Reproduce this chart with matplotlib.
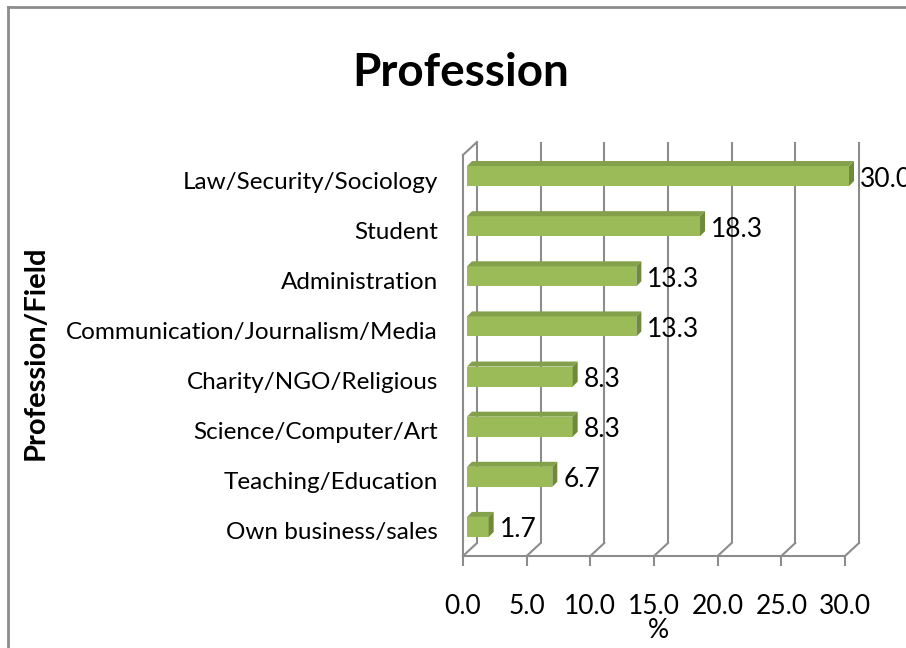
import matplotlib
matplotlib.use("Agg")
import matplotlib.pyplot as plt
from matplotlib.transforms import offset_copy
from matplotlib.patches import Polygon
from matplotlib.lines import Line2D
import numpy as np

plt.rcParams['font.family'] = ['Lato', 'DejaVu Sans']

categories = ['Law/Security/Sociology', 'Student', 'Administration',
              'Communication/Journalism/Media', 'Charity/NGO/Religious',
              'Science/Computer/Art', 'Teaching/Education', 'Own business/sales']
values = [30.0, 18.3, 13.3, 13.3, 8.3, 8.3, 6.7, 1.7]
xticks = [0, 5, 10, 15, 20, 25, 30]
xticklabels = ['0.0', '5.0', '10.0', '15.0', '20.0', '25.0', '30.0']

W, H = 906, 648
fig = plt.figure(figsize=(W / 100, H / 100), dpi=100)
fig.patch.set_facecolor('white')

# front plane of plot area in pixels
x0, x1, ytop, ybot = 463, 845, 155, 556
ax = fig.add_axes([x0 / W, (H - ybot) / H, (x1 - x0) / W, (ybot - ytop) / H])
ax.set_xlim(0, 30)
ax.set_ylim(7.5, -0.5)
ax.patch.set_alpha(0)

grey = '#8c8c8c'
wall = (14, 13)          # depth offset of back wall (px)
bfront = (4, 4)          # bar front face offset
bback = (9, 9)           # bar back face offset

back = offset_copy(ax.transData, fig, x=wall[0], y=wall[1], units='dots')

# back wall gridlines
ax.vlines(xticks, 7.5, -0.5, colors=grey, lw=1.5, transform=back, clip_on=False)
# floor lines and left wall top
for t in xticks:
    px, py = ax.transData.transform((t, 7.5))
    fig.add_artist(Line2D([px, px + wall[0]], [py, py + wall[1]], color=grey,
                          lw=1.5, transform=None))
px, py = ax.transData.transform((0, -0.5))
fig.add_artist(Line2D([px, px + wall[0]], [py, py + wall[1]], color=grey,
                      lw=1.5, transform=None))

for s in ['top', 'right']:
    ax.spines[s].set_visible(False)
for s in ['left', 'bottom']:
    ax.spines[s].set_color(grey)
    ax.spines[s].set_linewidth(1.5)

# bars
ypos = np.arange(len(categories))
bh = 0.4
front = offset_copy(ax.transData, fig, x=bfront[0], y=bfront[1], units='dots')
ax.barh(ypos, values, height=bh, color='#9bbb59', edgecolor='none',
        transform=front, clip_on=False, zorder=3)
dx, dy = bback[0] - bfront[0], bback[1] - bfront[1]
for yv, v in zip(ypos, values):
    (lx, ty) = ax.transData.transform((0, yv - bh / 2))
    (rx, by) = ax.transData.transform((v, yv + bh / 2))
    lx += bfront[0]; rx += bfront[0]; ty += bfront[1]; by += bfront[1]
    top = Polygon([[lx, ty], [rx, ty], [rx + dx, ty + dy], [lx + dx, ty + dy]],
                  closed=True, facecolor='#83a04a', edgecolor='none', transform=None)
    side = Polygon([[rx, by], [rx, ty], [rx + dx, ty + dy], [rx + dx, by + dy]],
                   closed=True, facecolor='#6f8a3c', edgecolor='none', transform=None)
    fig.add_artist(top)
    fig.add_artist(side)

# value labels
lab = offset_copy(ax.transData, fig, x=15, y=1, units='dots')
for yv, v in zip(ypos, values):
    ax.text(v, yv, f'{v:.1f}', transform=lab, ha='left', va='center',
            fontsize=19, color='black', clip_on=False)

ax.set_yticks(ypos)
ax.set_yticklabels(categories, fontsize=17.5)
ax.tick_params(axis='y', length=0, pad=18)
ax.set_xticks(xticks)
ax.set_xticklabels(xticklabels, fontsize=19)
ax.tick_params(axis='x', length=7, width=1.5, color=grey, pad=20)

fig.text(461 / W, 1 - 73 / H, 'Profession', ha='center', va='center',
         fontsize=33, fontweight='bold')
fig.text(36 / W, 1 - 353 / H, 'Profession/Field', ha='center', va='center',
         rotation=90, fontsize=21, fontweight='bold')
fig.text(658 / W, 1 - 630 / H, '%', ha='center', va='center', fontsize=19)

# chart frame
fig.add_artist(Line2D([7.5 / W, 7.5 / W], [0, 1 - 7 / H], color=grey, lw=2,
                      transform=fig.transFigure))
fig.add_artist(Line2D([7.5 / W, 1], [1 - 7 / H, 1 - 7 / H], color=grey, lw=2,
                      transform=fig.transFigure))

fig.savefig('out.png', dpi=100)
